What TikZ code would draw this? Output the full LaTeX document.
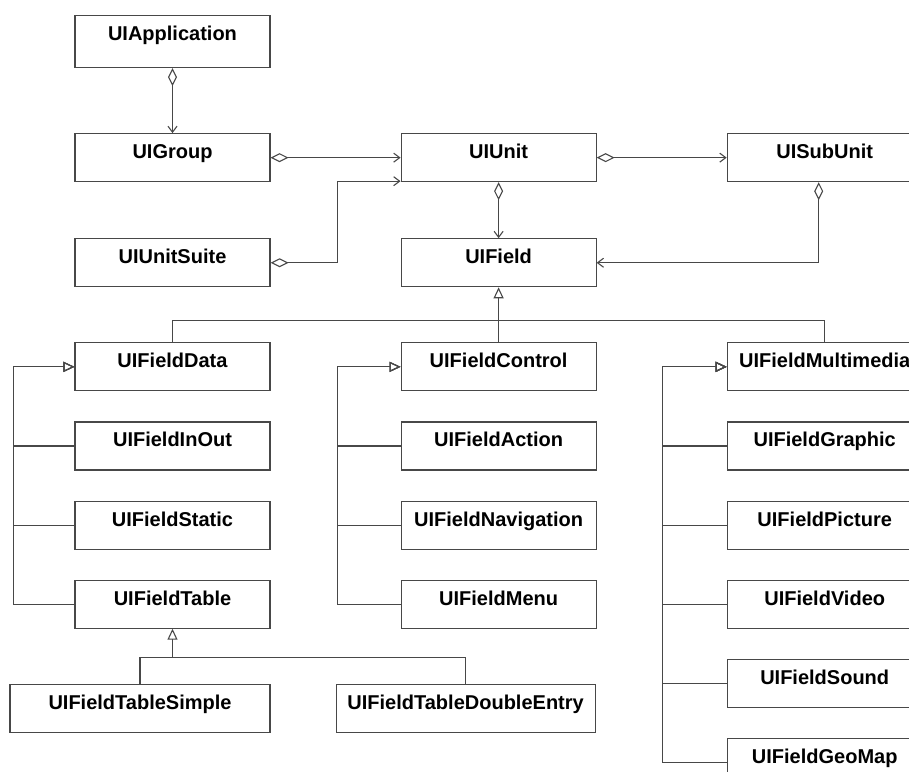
\documentclass[tikz,border=0pt]{standalone}
\usepackage{fontspec}
\setmainfont{Liberation Sans}
\usetikzlibrary{positioning,arrows.meta}
\definecolor{umlline}{RGB}{72,72,72}

\begin{document}
\begin{tikzpicture}[x=1pt,y=-1pt,node distance=30pt,
  font=\fontsize{20}{24}\selectfont\bfseries,
  cls/.style={draw=umlline,line width=1.1pt,minimum width=195pt,inner xsep=2pt,inner ysep=0pt,text height=25pt,text depth=23pt},
  agg/.style={{Diamond[open,length=18pt,width=9pt]}-{Straight Barb[length=6pt,width=9pt]},umlline,line width=1.1pt},
  gen/.style={-{Triangle[open,length=11pt,width=10pt]},umlline,line width=1.1pt},
  rel/.style={umlline,line width=1.1pt}]
  \useasboundingbox (0,0) rectangle (909,771);
  \clip (0,0) rectangle (909,771);
  % top part
  \node[cls,text depth=27pt,anchor=north](app) at (172.5,15){UIApplication};
  \node[cls,below=65pt of app](group){UIGroup};
  \node[cls,below=56pt of group](suite){UIUnitSuite};
  \node[cls,right=130pt of group](unit){UIUnit};
  \node[cls,right=130pt of unit](subunit){UISubUnit};
  \node[cls,below=56pt of unit](field){UIField};
  % field classes
  \node[cls,below=55pt of suite](fdata){UIFieldData};
  \node[cls,below=of fdata](finout){UIFieldInOut};
  \node[cls,below=of finout](fstatic){UIFieldStatic};
  \node[cls,below=of fstatic](ftable){UIFieldTable};
  \node[cls,below=55pt of field](fcontrol){UIFieldControl};
  \node[cls,below=of fcontrol](faction){UIFieldAction};
  \node[cls,below=of faction](fnav){UIFieldNavigation};
  \node[cls,below=of fnav](fmenu){UIFieldMenu};
  \node[cls,right=130pt of fcontrol](fmulti){UIFieldMultimedia};
  \node[cls,below=of fmulti](fgraphic){UIFieldGraphic};
  \node[cls,below=of fgraphic](fpicture){UIFieldPicture};
  \node[cls,below=of fpicture](fvideo){UIFieldVideo};
  \node[cls,below=of fvideo](fsound){UIFieldSound};
  \node[cls,below=of fsound](fgeomap){UIFieldGeoMap};
  \node[cls,minimum width=260pt,below=55pt of ftable.south east,anchor=north east](tsimple){UIFieldTableSimple};
  \node[cls,minimum width=259pt,right=65pt of tsimple](tdouble){UIFieldTableDoubleEntry};
  % aggregations
  \draw[agg](app)--(group);
  \draw[agg](group)--(unit);
  \draw[agg](suite.east)--++(67pt,0)|-([yshift=1pt]unit.south west);
  \draw[agg](unit)--(subunit);
  \draw[agg](unit)--(field);
  \draw[agg]([xshift=-6pt]subunit.south)|-(field.east);
  % generalizations
  \draw[gen](fcontrol)--(field);
  \draw[rel](fdata.north)--++(0,22pt)-|(fmulti.north);
  \foreach \n in {finout,fstatic,ftable}
    \draw[gen](\n.west)--++(-61pt,0)|-(fdata.west);
  \foreach \n in {faction,fnav,fmenu}
    \draw[gen](\n.west)--++(-63pt,0)|-(fcontrol.west);
  \foreach \n in {fgraphic,fpicture,fvideo,fsound,fgeomap}
    \draw[gen](\n.west)--++(-64pt,0)|-(fmulti.west);
  \draw[rel](tsimple.north)--++(0,26pt)-|(tdouble.north);
  \draw[gen]([yshift=26pt]tsimple.north)-|(ftable.south);
\end{tikzpicture}
\end{document}
